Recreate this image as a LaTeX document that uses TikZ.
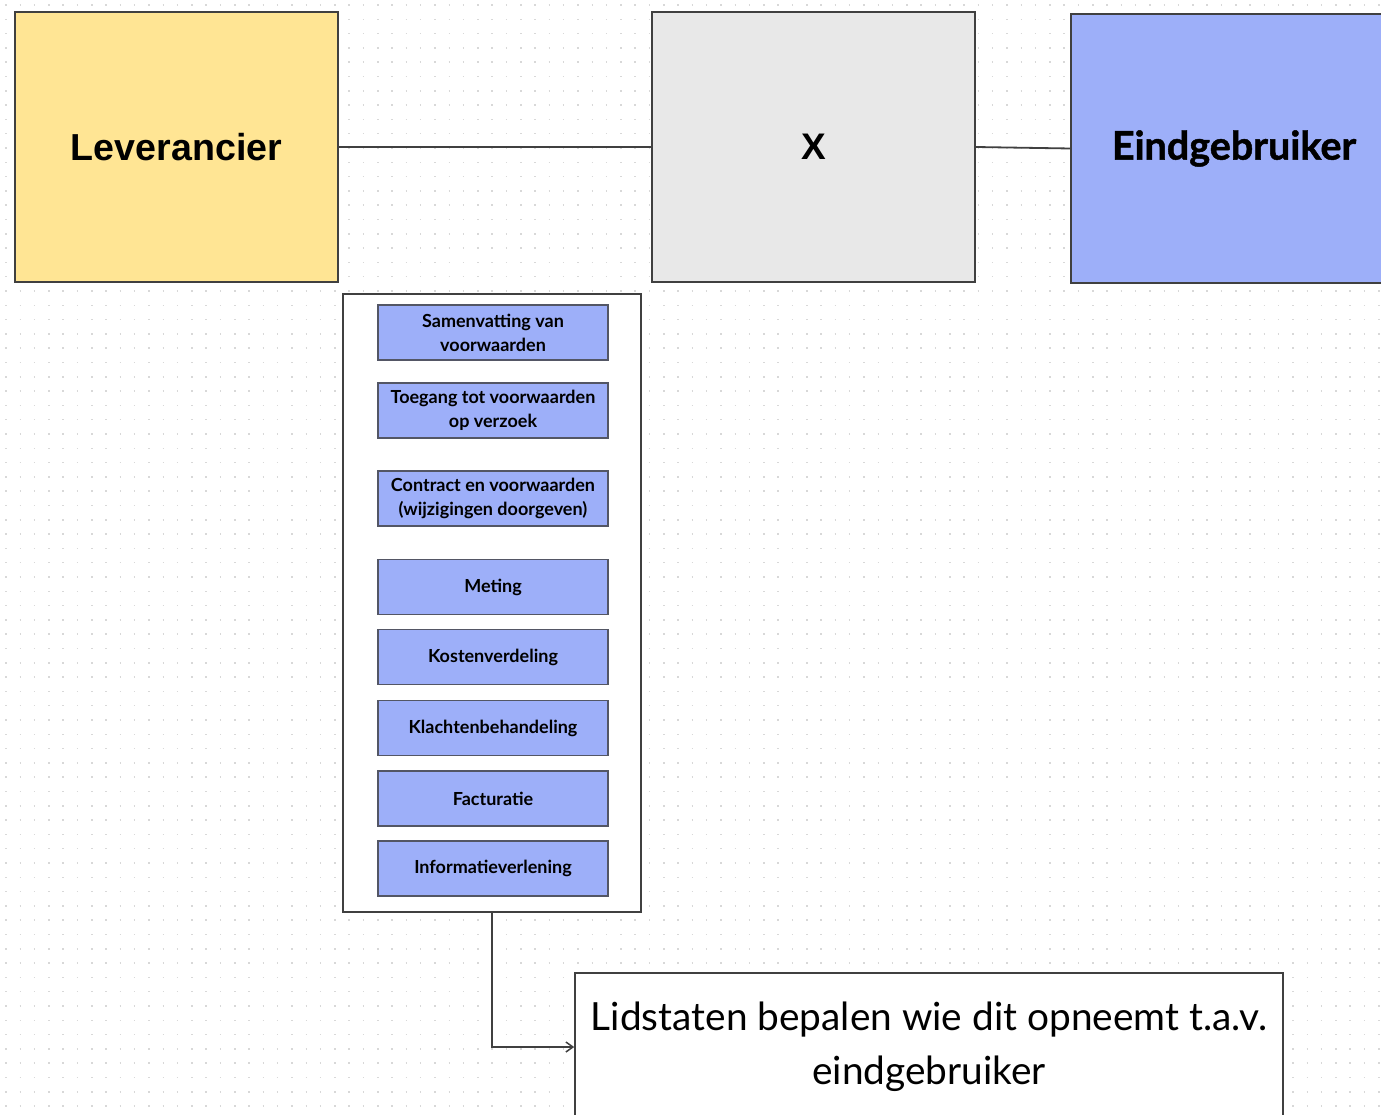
\documentclass[tikz,border=0pt]{standalone}
\usepackage{fontspec}
\setmainfont{Lato}
\newfontfamily\arialf{Liberation Sans}
\newfontfamily\latof{Lato}
\newfontfamily\latoheavy[BoldFeatures={FakeBold=1.2}]{Lato}
\usetikzlibrary{arrows.meta}
\definecolor{levyellow}{HTML}{FFE594}
\definecolor{xgray}{HTML}{E8E8E8}
\definecolor{eblue}{HTML}{9DAFF9}
\definecolor{edge}{HTML}{404040}
\definecolor{dotc}{HTML}{D8D8D8}
\tikzset{
  bigbox/.style={draw=edge, line width=1.6pt, rectangle, inner sep=0pt, minimum width=323pt, minimum height=270pt},
  itembox/.style={draw=edge!80!eblue, line width=1.2pt, fill=eblue, rectangle, inner sep=0pt,
     minimum width=230pt, minimum height=55pt, align=center,
     font=\latof\bfseries\fontsize{18}{24}\selectfont},
  conn/.style={draw=edge, line width=1.8pt},
}
\begin{document}
\begin{tikzpicture}[x=1pt,y=-1pt]
\useasboundingbox (0,0) rectangle (1381,1115);
\clip (0,0) rectangle (1381,1115);
\fill[white] (0,0) rectangle (1381,1115);
% dotted grid
\foreach \i in {0,...,77} {
  \pgfmathsetmacro\yy{5+14.3*\i}
  \draw[dotc, line width=1.5pt, dash pattern=on 1.5pt off 12.8pt] (5.25,\yy) -- (1381,\yy);
}
% top boxes
\node[bigbox, fill=levyellow, font=\arialf\bfseries\fontsize{37.6}{44}\selectfont] (lev) at (176.5,147) {Leverancier};
\node[bigbox, fill=xgray, font=\arialf\bfseries\fontsize{37}{44}\selectfont] (xb) at (813.5,147) {X};
\node[bigbox, fill=eblue, minimum width=326pt, minimum height=269pt, font=\latoheavy\bfseries\fontsize{39.5}{44}\selectfont] (eind) at (1234,148.5) {Eindgebruiker};
\draw[conn] (lev.east) -- (xb.west);
\draw[conn] (xb.east) -- (eind.west);
% container
\node[draw=edge, line width=1.6pt, fill=white, rectangle, inner sep=0pt, minimum width=298pt, minimum height=618pt] (cont) at (492,603) {};
\node[itembox] (i1) at (493,332.5) {Samenvatting van\\voorwaarden};
\node[itembox] (i2) at (493,410.5) {Toegang tot voorwaarden\\op verzoek};
\node[itembox] (i3) at (493,498.5) {Contract en voorwaarden\\(wijzigingen doorgeven)};
\node[itembox] (i4) at (493,587) {Meting};
\node[itembox] (i5) at (493,657) {Kostenverdeling};
\node[itembox] (i6) at (493,728) {Klachtenbehandeling};
\node[itembox] (i7) at (493,798.5) {Facturatie};
\node[itembox] (i8) at (493,868.5) {Informatieverlening};
% bottom box
\node[draw=edge, line width=1.6pt, fill=white, rectangle, inner sep=0pt, minimum width=708pt, minimum height=148pt,
  align=center, font=\latof\fontsize{38.8}{54}\selectfont] (bot) at (929,1047) {Lidstaten bepalen wie dit opneemt t.a.v.\\eindgebruiker};
\draw[conn, -{Straight Barb[length=7pt,width=10pt,line width=1.5pt]}] (cont.south) |- (bot.west);
\end{tikzpicture}
\end{document}
